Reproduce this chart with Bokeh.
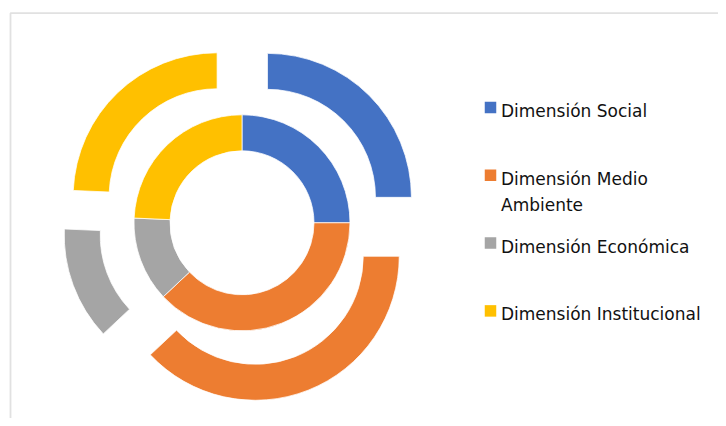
import math
from bokeh.plotting import figure
from bokeh.models import Range1d, BoxAnnotation, ColumnDataSource
from bokeh.core.properties import value
from bokeh.embed import file_html
from bokeh.resources import INLINE

# ---- data ----
categories = ["Dimensión  Social", "Dimensión  Medio\nAmbiente",
              "Dimensión  Económica", "Dimensión  Institucional"]
inner_values = [25.0, 38.0, 12.7, 24.3]
outer_values = [25.0, 38.0, 12.7, 24.3]
colors = ["#4472C4", "#ED7D31", "#A5A5A5", "#FFC000"]

# ---- layout ----
W, H = 718, 418
CX, CY = 241.5, 195.7          # doughnut centre (data units = px)
INNER_R = (72, 108)
OUTER_R = (108, 144)
EXPLODE = 36

p = figure(width=W, height=H, x_range=Range1d(0, W), y_range=Range1d(0, H),
           min_border=0, x_axis_location=None, y_axis_location=None,
           toolbar_location=None, output_backend="svg",
           outline_line_color=None, background_fill_color="white",
           border_fill_color="white")
p.grid.visible = False


def ring(vals, radii, explode):
    total = float(sum(vals))
    c = 0.0
    xs, ys, sa, ea = [], [], [], []
    for v in vals:
        c0, c1 = c / total, (c + v) / total
        start = math.pi / 2 - 2 * math.pi * c1
        end = math.pi / 2 - 2 * math.pi * c0
        mid = (start + end) / 2
        xs.append(CX + explode * math.cos(mid))
        ys.append(CY + explode * math.sin(mid))
        sa.append(start)
        ea.append(end)
        c += v
    src = ColumnDataSource(dict(x=xs, y=ys, s=sa, e=ea, c=colors))
    p.annular_wedge(x="x", y="y", inner_radius=radii[0], outer_radius=radii[1],
                    start_angle="s", end_angle="e", direction="anticlock",
                    fill_color="c", line_color="white", line_width=0.75, source=src)


ring(inner_values, INNER_R, 0)
ring(outer_values, OUTER_R, EXPLODE)

# chart-area border (top & left visible)
p.add_layout(BoxAnnotation(left=10, top=405.3, right=W + 20, bottom=-20,
                           fill_alpha=0, line_color="#9A9A9A", line_width=1.8))

# ---- legend ----
LEG_X_SQ, LEG_X_TXT = 490, 500.5
BASE_Y, STEP, LINE = 307.5, 67.8, 26.3
sq_x, sq_y, tx, ty, tt = [], [], [], [], []
for i, lab in enumerate(categories):
    by = BASE_Y - i * STEP
    sq_x.append(LEG_X_SQ)
    sq_y.append(by + 3.5)
    for j, line in enumerate(lab.split("\n")):
        tx.append(LEG_X_TXT)
        ty.append(by - j * LINE)
        tt.append(line)

p.rect(x=sq_x, y=sq_y, width=11.5, height=11.5, fill_color=colors, line_color=None)
p.text(x=tx, y=ty, text=tt, text_font=value("DejaVu Sans"), text_font_size="17px",
       text_color="#111111", text_baseline="alphabetic", text_align="left")

open("out.html", "w").write(file_html(p, INLINE))
